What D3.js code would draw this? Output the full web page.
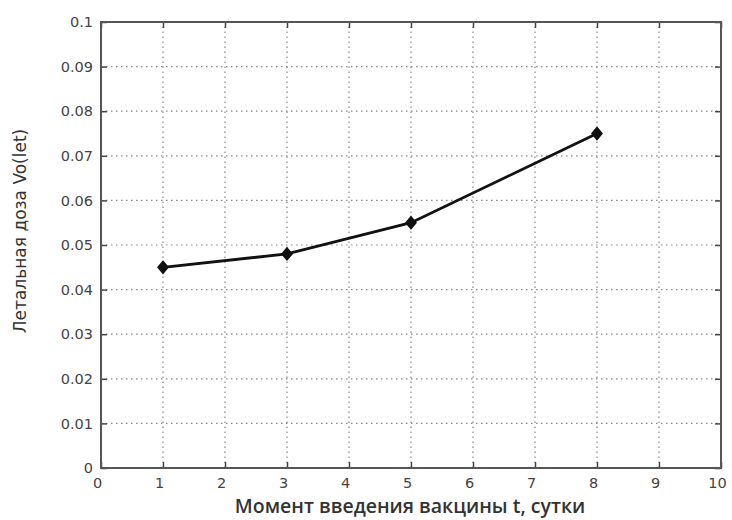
<!DOCTYPE html>
<html>
<head>
<meta charset="utf-8">
<script src="https://cdn.jsdelivr.net/npm/d3@7"></script>
<style>
  body { margin: 0; background: #fff; }
  svg { display: block; }
  .tick text { font-family: "DejaVu Sans", sans-serif; font-size: 14.5px; fill: #444; }
  .grid line { stroke: #888; stroke-dasharray: 1.5,3.5; stroke-width: 1.2; }
</style>
</head>
<body>
<svg id="chart" width="732" height="520"></svg>
<script>
// data
const days = [1, 3, 5, 8];
const doses = [0.045, 0.048, 0.055, 0.075];
const xTicks = [0, 1, 2, 3, 4, 5, 6, 7, 8, 9, 10];
const yTicks = [0, 0.01, 0.02, 0.03, 0.04, 0.05, 0.06, 0.07, 0.08, 0.09, 0.1];

const margin = { left: 101, right: 11, top: 22, bottom: 52 };
const width = 732, height = 520;
const svg = d3.select("#chart");

const x = d3.scaleLinear().domain([0, 10]).range([margin.left, width - margin.right]);
const y = d3.scaleLinear().domain([0, 0.1]).range([height - margin.bottom, margin.top]);

// dotted grid
svg.append("g").attr("class", "grid")
  .selectAll("line").data(xTicks.slice(1, -1)).join("line")
  .attr("x1", d => x(d)).attr("x2", d => x(d))
  .attr("y1", y(0)).attr("y2", y(0.1));
svg.append("g").attr("class", "grid")
  .selectAll("line").data(yTicks.slice(1, -1)).join("line")
  .attr("x1", x(0)).attr("x2", x(10))
  .attr("y1", d => y(d)).attr("y2", d => y(d));

const fmt = d => d === 0 ? "0" : d3.format("~g")(d);

// axes with inward ticks
const axBottom = svg.append("g").attr("transform", `translate(0,${y(0)})`)
  .call(d3.axisBottom(x).tickValues(xTicks).tickFormat(fmt).tickSizeInner(-6).tickSizeOuter(0).tickPadding(10));
const axLeft = svg.append("g").attr("transform", `translate(${x(0)},0)`)
  .call(d3.axisLeft(y).tickValues(yTicks).tickFormat(fmt).tickSizeInner(-6).tickSizeOuter(0).tickPadding(8));
const axTop = svg.append("g").attr("transform", `translate(0,${y(0.1)})`)
  .call(d3.axisTop(x).tickValues(xTicks).tickFormat("").tickSizeInner(-6).tickSizeOuter(0));
const axRight = svg.append("g").attr("transform", `translate(${x(10)},0)`)
  .call(d3.axisRight(y).tickValues(yTicks).tickFormat("").tickSizeInner(-6).tickSizeOuter(0));
[axBottom, axLeft, axTop, axRight].forEach(g => {
  g.select(".domain").remove();
  g.selectAll(".tick line").attr("stroke", "#444").attr("stroke-width", 1.5);
});
axBottom.selectAll(".tick text").attr("dx", -4);

// frame
svg.append("rect")
  .attr("x", x(0)).attr("y", y(0.1))
  .attr("width", x(10) - x(0)).attr("height", y(0) - y(0.1))
  .attr("fill", "none").attr("stroke", "#555").attr("stroke-width", 2);

// series
const pts = days.map((d, i) => [d, doses[i]]);
svg.append("path")
  .attr("d", d3.line().x(d => x(d[0])).y(d => y(d[1]))(pts))
  .attr("fill", "none").attr("stroke", "#111").attr("stroke-width", 2.8);
svg.append("g").selectAll("path").data(pts).join("path")
  .attr("transform", d => `translate(${x(d[0])},${y(d[1])})`)
  .attr("d", "M0,-6 L5,0 L0,6 L-5,0 Z")
  .attr("fill", "#111").attr("stroke", "#111").attr("stroke-width", 1.5);

// labels
svg.append("text")
  .attr("x", 410).attr("y", 513)
  .attr("text-anchor", "middle")
  .attr("font-family", "'Open Sans', sans-serif").attr("font-size", 19.5)
  .attr("font-weight", 600).attr("fill", "#333")
  .text("Момент введения вакцины t, сутки");
svg.append("text")
  .attr("transform", `translate(26,231) rotate(-90)`)
  .attr("text-anchor", "middle")
  .attr("font-family", "'DejaVu Sans', sans-serif").attr("font-size", 17)
  .attr("fill", "#333")
  .text("Летальная доза Vo(let)");
</script>
</body>
</html>
